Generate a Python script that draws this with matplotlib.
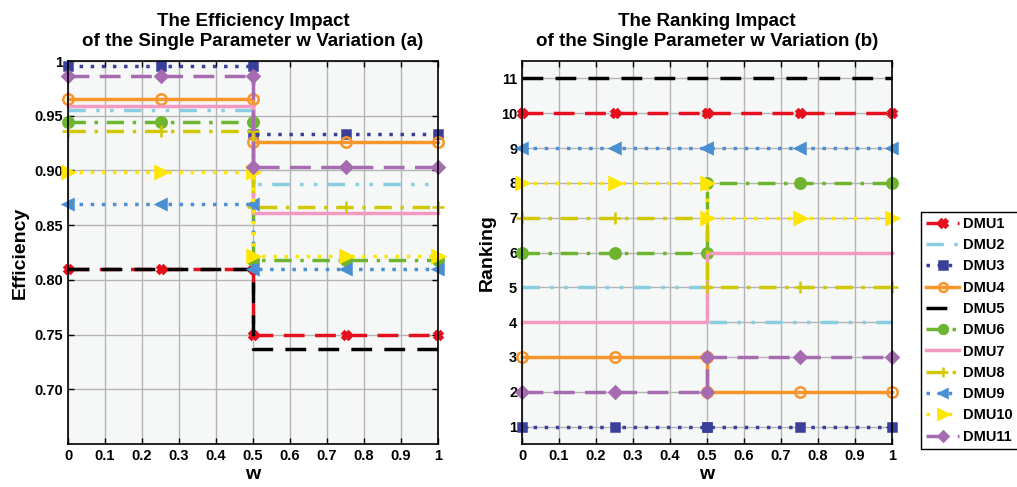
import matplotlib.pyplot as plt

plt.rcParams['font.family'] = ['Liberation Sans', 'DejaVu Sans']
plt.rcParams['font.weight'] = 'bold'

# valores
dmus = ['DMU1', 'DMU2', 'DMU3', 'DMU4', 'DMU5', 'DMU6',
        'DMU7', 'DMU8', 'DMU9', 'DMU10', 'DMU11']
w_pontos = [0, 0.25, 0.5, 0.5, 0.75, 1]

eficiencia_antes = [0.810, 0.955, 0.995, 0.965, 0.810, 0.944,
                    0.959, 0.936, 0.869, 0.899, 0.986]
eficiencia_depois = [0.750, 0.888, 0.933, 0.926, 0.737, 0.818,
                     0.861, 0.867, 0.810, 0.822, 0.903]

ranking_antes = [10, 5, 1, 3, 11, 6, 4, 7, 9, 8, 2]
ranking_depois = [10, 4, 1, 2, 11, 8, 6, 5, 9, 7, 3]

cores = ['#E60F1E', '#88CDE0', '#3A3F9A', '#F7962B', '#000000', '#6DB52F',
         '#F49AC1', '#D2C800', '#4A8FD1', '#FFE600', '#A66BB0']
estilos = [(0, (6, 3)), (0, (5, 3, 1, 3, 1, 3)), (0, (1, 2.2)), '-',
           (0, (6, 3.5)), (0, (5, 2.5, 1, 2.5)), '-', (0, (5, 2.5, 1, 2.5)),
           (0, (1, 2.2)), (0, (1, 2.2)), (0, (6, 3))]
marcadores = ['X', None, 's', 'o', None, 'o', None, '+', '<', '>', 'D']
tamanhos = [6, 0, 6, 7.5, 0, 7.5, 0, 9, 7.5, 8, 6]
faces = [None, None, None, 'none', None, None, None, None, None, None, None]

fig = plt.figure(figsize=(10.17, 4.87), dpi=100)
ax1 = fig.add_axes([0.0669, 0.0883, 0.3638, 0.7864])
ax2 = fig.add_axes([0.5133, 0.0883, 0.3638, 0.7864])


def desenhar(ax, antes, depois):
    for i in range(len(dmus)):
        y = [antes[i], antes[i], antes[i], depois[i], depois[i], depois[i]]
        kw = dict(color=cores[i], linestyle=estilos[i], linewidth=2.5,
                  label=dmus[i])
        if marcadores[i] is not None:
            kw.update(marker=marcadores[i], markersize=tamanhos[i],
                      markeredgewidth=1.8)
            if faces[i] is not None:
                kw['markerfacecolor'] = faces[i]
        ax.plot(w_pontos, y, clip_on=False, **kw)
    ax.set_xlim(0, 1)
    ax.set_xticks([0, 0.1, 0.2, 0.3, 0.4, 0.5, 0.6, 0.7, 0.8, 0.9, 1])
    ax.set_xticklabels(['0', '0.1', '0.2', '0.3', '0.4', '0.5', '0.6',
                        '0.7', '0.8', '0.9', '1'])
    ax.set_facecolor('#F6F8F8')
    ax.grid(True, color='#B4B4B4', linewidth=1)
    ax.set_axisbelow(True)
    ax.tick_params(direction='in', top=True, right=True, labelsize=10.5,
                   length=4, width=1)
    for lado in ax.spines.values():
        lado.set_linewidth(1.2)
    ax.set_xlabel('w', fontsize=14, fontweight='bold', labelpad=2)


desenhar(ax1, eficiencia_antes, eficiencia_depois)
ax1.set_ylim(0.65, 1.0)
ax1.set_yticks([0.70, 0.75, 0.80, 0.85, 0.90, 0.95, 1.0])
ax1.set_yticklabels(['0.70', '0.75', '0.80', '0.85', '0.90', '0.95', '1'])
ax1.set_ylabel('Efficiency', fontsize=14, fontweight='bold')
ax1.set_title('The Efficiency Impact\nof the Single Parameter w Variation (a)',
              fontsize=13.5, fontweight='bold', pad=11)

desenhar(ax2, ranking_antes, ranking_depois)
ax2.set_ylim(0.5, 11.5)
ax2.set_yticks(range(1, 12))
ax2.set_ylabel('Ranking', fontsize=14, fontweight='bold')
ax2.set_title('The Ranking Impact\nof the Single Parameter w Variation (b)',
              fontsize=13.5, fontweight='bold', pad=11)

handles, labels = ax2.get_legend_handles_labels()
leg = fig.legend(handles, labels, loc='upper left',
                 bbox_to_anchor=(0.9053, 0.5653),
                 prop={'weight': 'bold', 'size': 10.5}, markerscale=0.85,
                 frameon=True, fancybox=False, edgecolor='black',
                 framealpha=1, handlelength=2.3, handletextpad=0.25,
                 labelspacing=0.5, borderpad=0.35, borderaxespad=0)
leg.get_frame().set_linewidth(1)

fig.savefig('out.png', dpi=100)
